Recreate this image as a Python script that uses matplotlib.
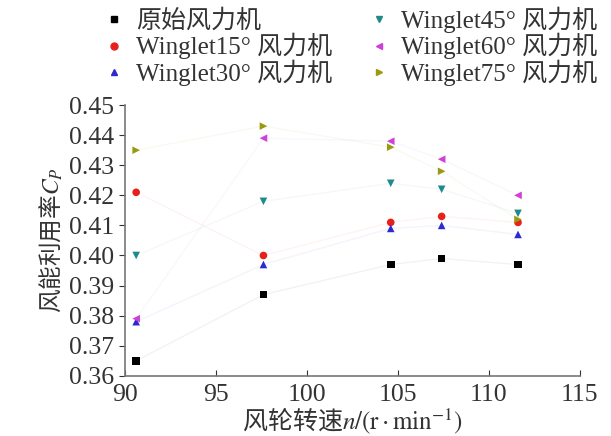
import matplotlib
matplotlib.use("Agg")
import matplotlib.pyplot as plt
from matplotlib.lines import Line2D

plt.rcParams['font.family'] = ['Liberation Serif', 'Noto Sans CJK SC']
plt.rcParams['mathtext.fontset'] = 'stix'

# rotor speed (r/min)
speed = [90.6, 97.6, 104.6, 107.4, 111.6]

cp_original = [0.365, 0.387, 0.397, 0.399, 0.397]
cp_w15 = [0.421, 0.400, 0.411, 0.413, 0.411]
cp_w30 = [0.378, 0.397, 0.409, 0.410, 0.407]
cp_w45 = [0.400, 0.418, 0.424, 0.422, 0.414]
cp_w60 = [0.379, 0.439, 0.438, 0.432, 0.420]
cp_w75 = [0.435, 0.443, 0.436, 0.428, 0.412]

labels = ['原始风力机', 'Winglet15° 风力机', 'Winglet30° 风力机',
          'Winglet45° 风力机', 'Winglet60° 风力机', 'Winglet75° 风力机']
series = [cp_original, cp_w15, cp_w30, cp_w45, cp_w60, cp_w75]
colors = ['#000000', '#e8201a', '#2a2ad0', '#1f8a8a', '#d040d8', '#9a9a10']
markers = ['s', 'o', '^', 'v', '<', '>']

fig = plt.figure(figsize=(6.11, 4.36), dpi=100)
ax = fig.add_axes([0.205, 0.138, 0.744, 0.621])

handles = []
for y, c, m, lab in zip(series, colors, markers, labels):
    ax.plot(speed, y, color=c, lw=1.0, alpha=0.05, zorder=1)
    ax.scatter(speed, y, color=c, marker=m, s=30, zorder=3, edgecolors='none')
    handles.append(Line2D([], [], color=c, marker=m, ls='none', markersize=5))

ax.set_xlim(90, 115)
ax.set_ylim(0.36, 0.45)
ax.set_xticks([90, 95, 100, 105, 110, 115])
ax.set_yticks([0.36, 0.37, 0.38, 0.39, 0.40, 0.41, 0.42, 0.43, 0.44, 0.45])
ax.set_yticklabels(['0.36', '0.37', '0.38', '0.39', '0.40', '0.41',
                    '0.42', '0.43', '0.44', '0.45'])
ax.tick_params(axis='both', labelsize=18.5, colors='#333333', length=4)
ax.tick_params(axis='x', direction='in', pad=6)
ax.tick_params(axis='y', direction='out', pad=4)
for s in ['top', 'right']:
    ax.spines[s].set_visible(False)
for s in ['left', 'bottom']:
    ax.spines[s].set_color('#777777')
    ax.spines[s].set_linewidth(1.2)

ax.set_xlabel(r'风轮转速$n/(\mathrm{r}\cdot\mathrm{min}^{-1})$', fontsize=18,
              family='Noto Sans CJK SC', color='#333333', labelpad=0)
ax.set_ylabel(r'风能利用率$C_P$', fontsize=17, family='Noto Sans CJK SC',
              color='#333333', labelpad=3)

fig.legend(handles, labels, ncol=2, loc='upper left',
           bbox_to_anchor=(0.129, 1.036), frameon=False, fontsize=18,
           handletextpad=0.4, columnspacing=1.35, labelspacing=0.0,
           handlelength=1.0, labelcolor='#333333')

fig.savefig('out.png', dpi=100)
